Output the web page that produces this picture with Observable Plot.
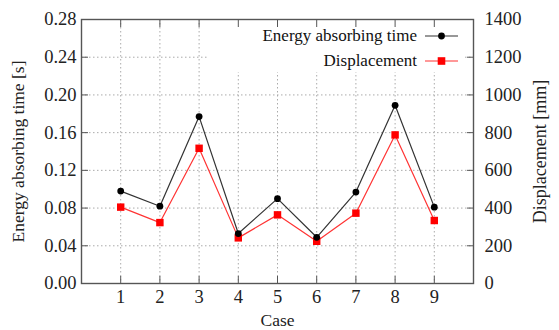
<!DOCTYPE html>
<html>
<head>
<meta charset="utf-8">
<script src="https://cdn.jsdelivr.net/npm/d3@7"></script>
<script src="https://cdn.jsdelivr.net/npm/@observablehq/plot@0.6"></script>
<style>
  html, body { margin: 0; padding: 0; background: #fff; }
  #chart { width: 559px; height: 330px; }
  #chart svg text { font-family: "Liberation Serif", "Times New Roman", serif; font-variant: normal; }
</style>
</head>
<body>
<div id="chart"></div>
<script>
const cases = [1, 2, 3, 4, 5, 6, 7, 8, 9];
const absorbTime = [0.098, 0.082, 0.177, 0.053, 0.090, 0.049, 0.097, 0.189, 0.081];
const displacement = [405, 323, 717, 242, 364, 224, 373, 788, 334];
const leftTicks = [0, 0.04, 0.08, 0.12, 0.16, 0.20, 0.24, 0.28];
const rightTicks = [0, 200, 400, 600, 800, 1000, 1200, 1400];
const seriesNames = ["Energy absorbing time", "Displacement"];
const ratio = rightTicks[rightTicks.length - 1] / leftTicks[leftTicks.length - 1];

const timeData = cases.map((c, i) => ({ c, v: absorbTime[i] }));
const dispData = cases.map((c, i) => ({ c, v: displacement[i] / ratio }));

const FONT = "Liberation Serif";

function legend(index, scales, values, dim) {
  const g = d3.create("svg:g");
  const right = dim.width - dim.marginRight;
  const top = dim.marginTop;
  g.append("rect").attr("x", right - 266).attr("y", top + 1).attr("width", 258).attr("height", 52).attr("fill", "#fff");
  const rows = [
    { name: seriesNames[0], color: "#333", dot: "#000", sym: "circle" },
    { name: seriesNames[1], color: "#f33", dot: "#f00", sym: "square" }
  ];
  rows.forEach((r, i) => {
    const y = top + 17 + i * 25;
    const lx0 = right - 48, lx1 = right - 15, mx = (lx0 + lx1) / 2;
    g.append("text").attr("x", right - 56).attr("y", y).attr("dy", "0.32em")
      .attr("text-anchor", "end").attr("font-size", 17).attr("fill", "#111").text(r.name);
    g.append("line").attr("x1", lx0).attr("x2", lx1).attr("y1", y).attr("y2", y)
      .attr("stroke", r.color).attr("stroke-width", 1.2);
    if (r.sym === "circle") g.append("circle").attr("cx", mx).attr("cy", y).attr("r", 3.4).attr("fill", r.dot);
    else g.append("rect").attr("x", mx - 3.8).attr("y", y - 3.8).attr("width", 7.6).attr("height", 7.6).attr("fill", r.dot);
  });
  return g.node();
}

const gridStyle = { stroke: "#aaa", strokeOpacity: 1, strokeDasharray: "1.5,2.5", strokeWidth: 1 };
const tickTxt = { fontFamily: FONT, fontSize: 18.5, fontVariant: "normal" };

const chart = Plot.plot({
  width: 559,
  height: 330,
  marginLeft: 81,
  marginRight: 86,
  marginTop: 19,
  marginBottom: 47,
  style: { fontFamily: FONT, fontSize: "18px", color: "#222", background: "#fff" },
  x: { domain: [0, 10] },
  y: { domain: [0, 0.28] },
  marks: [
    Plot.gridX(cases, gridStyle),
    Plot.gridY(leftTicks, gridStyle),
    legend,
    Plot.frame({ stroke: "#555", strokeWidth: 1.4 }),
    Plot.axisX(cases, { ...tickTxt, anchor: "bottom", tickSize: 0, tickPadding: 6, tickFormat: d => String(d), label: null }),
    Plot.axisX({ fontFamily: FONT, fontSize: 17.5, anchor: "bottom", ticks: [], label: "Case", labelAnchor: "center", labelArrow: "none", labelOffset: 42 }),
    Plot.axisX(cases, { anchor: "top", tickSize: -7, tickFormat: () => "", label: null, stroke: "#555" }),
    Plot.axisX(cases, { anchor: "bottom", tickSize: -7, tickFormat: () => "", label: null, stroke: "#555" }),
    Plot.axisY(leftTicks, { ...tickTxt, anchor: "left", tickSize: 0, tickPadding: 5, tickFormat: d => d.toFixed(2), label: null }),
    Plot.axisY({ fontFamily: FONT, fontSize: 17.5, anchor: "left", ticks: [], label: "Energy absorbing time [s]", labelAnchor: "center", labelArrow: "none", labelOffset: 70 }),
    Plot.axisY(leftTicks, { anchor: "left", tickSize: -7, tickFormat: () => "", label: null, stroke: "#555" }),
    Plot.axisY(leftTicks, { ...tickTxt, anchor: "right", tickSize: 0, tickPadding: 11, tickFormat: d => String(Math.round(d * ratio)), label: null }),
    Plot.axisY({ fontFamily: FONT, fontSize: 18, anchor: "right", ticks: [], label: "Displacement [mm]", labelAnchor: "center", labelArrow: "none", labelOffset: 72 }),
    Plot.axisY(leftTicks, { anchor: "right", tickSize: -7, tickFormat: () => "", label: null, stroke: "#555" }),
    Plot.line(dispData, { x: "c", y: "v", stroke: "#f33", strokeWidth: 1.2 }),
    Plot.line(timeData, { x: "c", y: "v", stroke: "#333", strokeWidth: 1.2 }),
    Plot.dot(dispData, { x: "c", y: "v", symbol: "square", r: 4.2, fill: "#f00" }),
    Plot.dot(timeData, { x: "c", y: "v", symbol: "circle", r: 3.4, fill: "#000" })
  ]
});
document.getElementById("chart").appendChild(chart);
</script>
</body>
</html>
